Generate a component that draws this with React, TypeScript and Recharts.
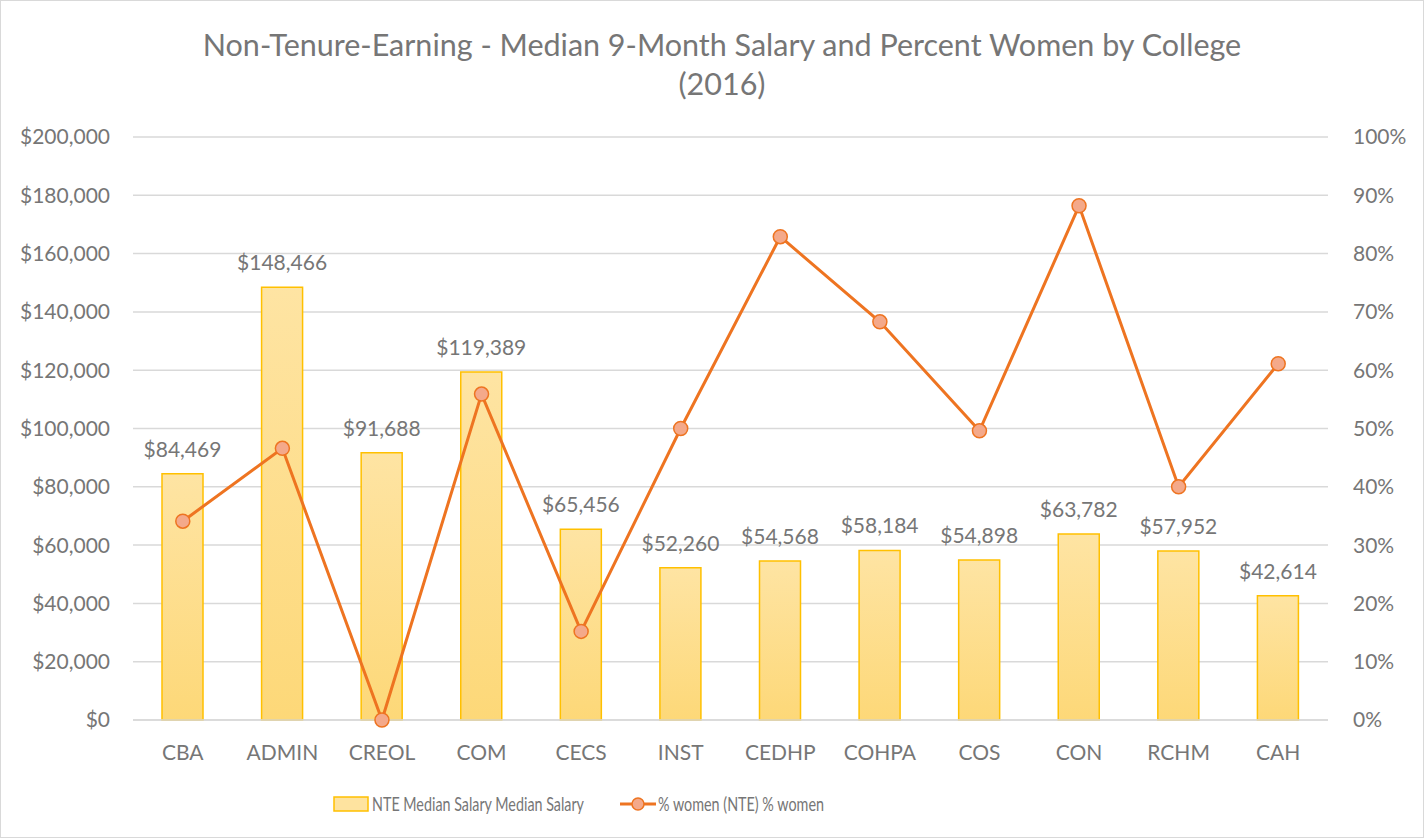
import React from 'react';
import { ComposedChart, Bar, Line, XAxis, YAxis, CartesianGrid, LabelList } from 'recharts';

const colleges = ['CBA', 'ADMIN', 'CREOL', 'COM', 'CECS', 'INST', 'CEDHP', 'COHPA', 'COS', 'CON', 'RCHM', 'CAH'];
const medianSalary = [84469, 148466, 91688, 119389, 65456, 52260, 54568, 58184, 54898, 63782, 57952, 42614];
const percentWomen = [34.1, 46.6, 0, 55.9, 15.2, 50, 82.9, 68.3, 49.6, 88.2, 40, 61.1];
const salaryTicks = [0, 20000, 40000, 60000, 80000, 100000, 120000, 140000, 160000, 180000, 200000];
const percentTicks = [0, 10, 20, 30, 40, 50, 60, 70, 80, 90, 100];

const data = colleges.map((name, i) => ({ name, salary: medianSalary[i], women: percentWomen[i] }));

const FONT = 'Lato, "Open Sans", sans-serif';
const GRAY = '#767676';
const ORANGE = '#ee7421';

const money = (v: number) => '$' + v.toLocaleString('en-US');

// legend sits a bit left of centre in the original, text is condensed
const LegendBox = () => (
  <svg width={1424} height={40} style={{ position: 'absolute', left: 0, top: 783 }}>
    <rect x={333} y={13} width={34} height={14} fill="#fee39f" stroke="#ffc000" strokeWidth={1.5} />
    <text x={371} y={27} fontFamily={FONT} fontSize={19} fill={GRAY} textLength={212} lengthAdjust="spacingAndGlyphs">
      NTE Median Salary Median Salary
    </text>
    <line x1={619} y1={20} x2={655} y2={20} stroke={ORANGE} strokeWidth={3} />
    <circle cx={637} cy={20} r={6} fill="#f4a98a" stroke={ORANGE} strokeWidth={1.5} />
    <text x={657} y={27} fontFamily={FONT} fontSize={19} fill={GRAY} textLength={166} lengthAdjust="spacingAndGlyphs">
      % women (NTE) % women
    </text>
  </svg>
);

export default function App() {
  return (
    <div style={{ position: 'absolute', left: 0, top: 0, width: 1424, height: 838, background: '#fff', boxSizing: 'border-box', border: '1px solid #d9d9d9' }}>
      <div style={{ position: 'absolute', left: 18, width: 1406, top: 24, textAlign: 'center', fontFamily: FONT, fontSize: 30.5, lineHeight: '39px', color: GRAY }}>
        Non-Tenure-Earning - Median 9-Month Salary and Percent Women by College
        <br />
        (2016)
      </div>
      <ComposedChart width={1422} height={836} data={data} margin={{ top: 136, right: 0, bottom: 87, left: 0 }}>
        <defs>
          <linearGradient id="barFill" x1="0" y1="0" x2="0" y2="1">
            <stop offset="0%" stopColor="#fee4a3" />
            <stop offset="100%" stopColor="#fdd878" />
          </linearGradient>
        </defs>
        <CartesianGrid yAxisId="left" vertical={false} stroke="#d9d9d9" strokeWidth={1.5} />
        <XAxis
          dataKey="name"
          tickLine={false}
          axisLine={{ stroke: '#d9d9d9', strokeWidth: 1.5 }}
          tick={{ fill: GRAY, fontSize: 21, fontFamily: FONT }}
          tickMargin={19}
        />
        <YAxis
          yAxisId="left"
          width={132}
          domain={[0, 200000]}
          ticks={salaryTicks}
          tickFormatter={money}
          axisLine={false}
          tickLine={false}
          tickMargin={17}
          tick={{ fill: GRAY, fontSize: 21, fontFamily: FONT }}
        />
        <YAxis
          yAxisId="right"
          orientation="right"
          width={95}
          domain={[0, 100]}
          ticks={percentTicks}
          tickFormatter={(v: number) => v + '%'}
          axisLine={false}
          tickLine={false}
          tickMargin={19}
          tick={{ fill: GRAY, fontSize: 21, fontFamily: FONT, textAnchor: 'start' }}
        />
        <Bar yAxisId="left" dataKey="salary" barSize={41} fill="url(#barFill)" stroke="#ffc000" strokeWidth={1.5} isAnimationActive={false}>
          <LabelList dataKey="salary" position="top" offset={17} formatter={(v: number) => money(v)} fill={GRAY} fontSize={21} fontFamily={FONT} />
        </Bar>
        <Line
          yAxisId="right"
          dataKey="women"
          stroke={ORANGE}
          strokeWidth={3}
          dot={{ r: 7, fill: '#f4a98a', stroke: ORANGE, strokeWidth: 1.5 }}
          isAnimationActive={false}
        />
      </ComposedChart>
      <LegendBox />
    </div>
  );
}
